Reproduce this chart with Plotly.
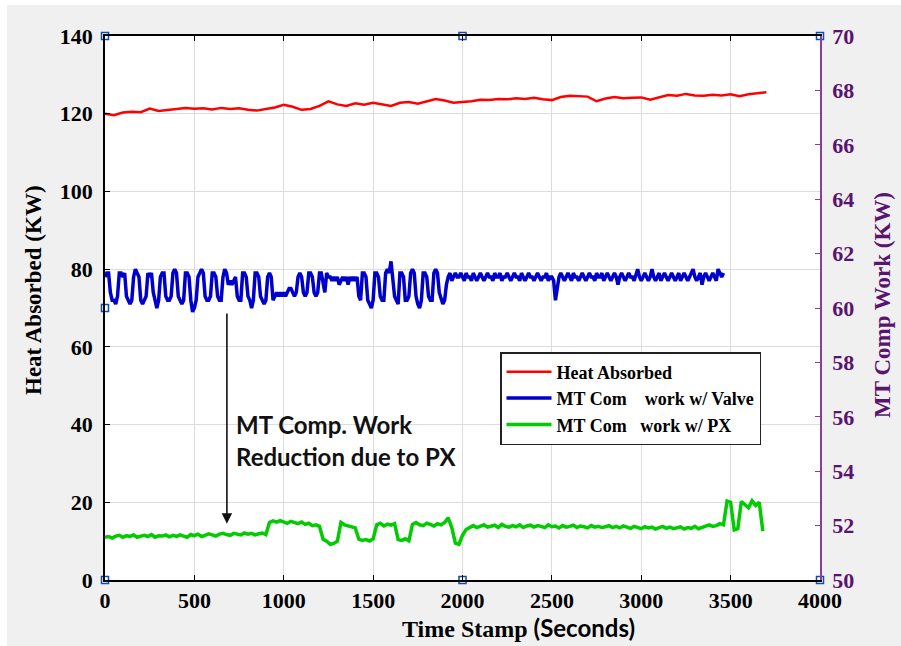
import numpy as np
import plotly.graph_objects as go

# ---- data -------------------------------------------------------------
# Heat absorbed (KW), sampled every 50 s
heat_step = 50
heat_absorbed = [
    120.0, 119.6, 120.3, 120.5, 120.4, 121.3, 120.7, 121.0, 121.2, 121.5,
    121.3, 121.4, 121.1, 121.5, 121.2, 121.4, 121.0, 120.8, 121.2, 121.6,
    122.3, 121.8, 121.0, 121.2, 122.0, 123.2, 122.4, 122.0, 122.7, 122.3,
    122.8, 122.4, 122.0, 122.8, 123.0, 122.6, 123.2, 123.8, 123.4, 122.8,
    123.0, 123.2, 123.6, 123.5, 123.8, 123.7, 124.0, 123.8, 124.1, 123.7,
    123.5, 124.3, 124.6, 124.5, 124.4, 123.2, 123.9, 124.3, 124.0, 124.1,
    124.2, 123.6, 124.2, 124.8, 124.6, 125.1, 124.7, 124.6, 124.9, 124.7,
    125.0, 124.5, 125.0, 125.2, 125.5,
]

# MT compressor work with expansion valve (KW), sampled every 10 s
valve_step = 10
work_valve = [
    78, 79, 79, 74, 72, 72, 71, 73, 79, 79, 78, 79, 73, 72, 71, 72, 78, 80, 79, 78,
    72, 71, 72, 73, 79, 78, 79, 74, 72, 70, 72, 78, 79, 79, 73, 72, 72, 73, 79, 80,
    79, 73, 72, 71, 72, 79, 79, 78, 72, 69, 70, 72, 78, 79, 80, 79, 73, 72, 72, 73,
    79, 79, 78, 73, 72, 72, 78, 80, 79, 76, 77, 76, 77, 78, 73, 72, 72, 79, 79, 78,
    73, 72, 70, 72, 79, 79, 78, 73, 72, 71, 72, 78, 79, 78, 72, 73, 74, 73, 74, 73,
    74, 73, 74, 75, 75, 74, 73, 74, 78, 79, 78, 74, 73, 74, 79, 79, 78, 74, 73, 74,
    79, 79, 76, 74, 79, 78, 78, 77, 78, 77, 78, 76, 77, 78, 77, 78, 76, 78, 77, 78,
    77, 78, 73, 72, 79, 79, 78, 72, 71, 70, 72, 79, 79, 78, 73, 72, 72, 79, 80, 79,
    82, 78, 73, 72, 71, 79, 79, 78, 72, 72, 73, 79, 80, 79, 73, 71, 70, 72, 79, 79,
    78, 73, 72, 72, 79, 80, 79, 74, 72, 71, 72, 76, 78, 79, 77, 78, 79, 78, 78, 79,
    78, 77, 79, 78, 78, 77, 79, 78, 77, 78, 79, 78, 77, 78, 79, 78, 78, 77, 79, 78,
    78, 79, 77, 78, 78, 79, 78, 77, 78, 79, 78, 78, 77, 79, 78, 77, 78, 79, 78, 78,
    77, 78, 79, 78, 77, 78, 78, 79, 77, 78, 78, 77, 72, 75, 78, 79, 78, 77, 78, 79,
    78, 77, 79, 78, 78, 77, 78, 79, 78, 77, 78, 79, 78, 78, 77, 79, 78, 78, 79, 77,
    78, 79, 78, 77, 78, 79, 78, 76, 78, 79, 78, 77, 78, 79, 78, 78, 77, 79, 80, 78,
    77, 78, 79, 78, 77, 78, 80, 78, 77, 78, 79, 77, 78, 79, 78, 77, 78, 79, 78, 77,
    78, 79, 77, 78, 79, 78, 77, 78, 79, 80, 78, 77, 78, 79, 76, 78, 79, 78, 77, 78,
    79, 78, 77, 80, 79, 78, 79,
]

# MT compressor work with pressure exchanger (KW), sampled every 20 s
px_step = 20
work_px = [
    11.0, 11.2, 10.8, 11.3, 11.5, 11.0, 11.4, 11.2, 11.6, 11.0, 11.3, 11.5, 11.2, 11.7, 11.0, 11.4, 11.3, 11.6, 11.1, 11.5,
    11.2, 11.6, 11.3, 11.0, 11.7, 11.4, 11.8, 11.2, 11.5, 11.9, 11.6, 11.3, 11.8, 12.0, 11.7, 11.5, 12.0, 11.8, 11.6, 12.1,
    11.8, 12.0, 11.6, 11.9, 12.1, 11.7, 14.8, 15.2, 14.9, 15.3, 15.0, 14.6, 15.1, 14.7, 14.5, 14.9, 14.3, 14.6, 14.0, 14.2,
    13.8, 10.5, 10.0, 9.2, 9.4, 10.0, 14.8, 14.2, 13.9, 13.6, 13.4, 10.5, 10.2, 10.4, 10.0, 10.6, 14.2, 14.6, 13.9, 14.4,
    14.1, 14.5, 10.4, 10.2, 10.6, 10.1, 14.3, 14.8, 14.2, 14.0, 14.6, 14.3, 13.9, 14.5, 14.2, 14.8, 16.0, 13.5, 9.5, 9.2,
    11.5, 13.0, 13.6, 14.0, 13.5, 13.8, 14.2, 13.6, 13.9, 14.1, 13.5, 14.3, 13.8, 13.6, 14.0, 13.7, 14.2, 13.5, 13.9, 14.1,
    13.6, 14.0, 13.8, 13.5, 14.2, 13.7, 13.9, 13.4, 14.0, 13.6, 13.8, 14.1, 13.5, 13.9, 13.7, 13.4, 14.0, 13.6, 13.8, 13.5,
    13.7, 14.0, 13.5, 13.8, 13.4, 13.9, 13.6, 13.3, 13.8, 13.5, 13.2, 13.7, 13.4, 13.6, 13.1, 13.5, 13.8, 13.3, 13.6, 13.2,
    13.4, 13.7, 13.1, 13.5, 13.3, 13.8, 13.2, 13.6, 13.9, 14.2, 13.8, 14.0, 14.5, 14.2, 20.3, 20.0, 12.9, 13.2, 20.2, 19.5,
    18.6, 20.4, 19.2, 20.0, 12.6,
]

heat_time = np.arange(len(heat_absorbed)) * heat_step
valve_time = np.arange(len(work_valve)) * valve_step
px_time = np.arange(len(work_px)) * px_step

# axis corner handles (time, heat axis value)
handle_t = [0, 2000, 0, 2000, 0]
handle_y = [140, 140, 0, 0, 70]
handle2_t = [4000, 4000]
handle2_y = [70, 50]

x_ticks = [0, 500, 1000, 1500, 2000, 2500, 3000, 3500, 4000]
y_ticks = [0, 20, 40, 60, 80, 100, 120, 140]
y2_ticks = [50, 52, 54, 56, 58, 60, 62, 64, 66, 68, 70]

callout_lines = ["MT Comp. Work", "Reduction due to PX"]

# ---- styling ----------------------------------------------------------
SERIF = "Liberation Serif"
PURPLE_LINE = "#8a3d9a"
PURPLE_TEXT = "#5a1470"
GRID = "#dcdcdc"
HANDLE = "#0d4fa8"

fig = go.Figure()

fig.add_trace(go.Scatter(x=heat_time, y=heat_absorbed, mode="lines",
                         name="Heat Absorbed",
                         line=dict(color="#ff0000", width=2.5)))
fig.add_trace(go.Scatter(x=valve_time, y=work_valve, mode="lines",
                         name="MT Com    work w/ Valve",
                         line=dict(color="#0000cc", width=3.5)))
fig.add_trace(go.Scatter(x=px_time, y=work_px, mode="lines",
                         name="MT Com   work w/ PX",
                         line=dict(color="#00cc00", width=3.5)))

handle_marker = dict(symbol="square", size=7, color="white",
                     line=dict(color=HANDLE, width=1.5))
fig.add_trace(go.Scatter(x=handle_t, y=handle_y, mode="markers",
                         marker=handle_marker, showlegend=False,
                         cliponaxis=False, hoverinfo="skip"))
fig.add_trace(go.Scatter(x=handle2_t, y=handle2_y, mode="markers",
                         marker=handle_marker, showlegend=False,
                         cliponaxis=False, hoverinfo="skip", yaxis="y2"))

W, H = 901, 646
ML, MR, MT_, MB = 105, 81, 36, 66
PW, PH = W - ML - MR, H - MT_ - MB


def px_to_paper(px, py):
    return (px - ML) / PW, (H - MB - py) / PH


tick_font = dict(family=SERIF, size=22, color="black", weight="bold")

fig.update_layout(
    width=W, height=H,
    margin=dict(l=ML, r=MR, t=MT_, b=MB, pad=0),
    paper_bgcolor="#f0f0f0",
    plot_bgcolor="white",
    showlegend=True,
    xaxis=dict(range=[0, 4000], tickvals=x_ticks, ticks="inside", ticklen=5,
               tickcolor="black", showline=True, linecolor="black", linewidth=1.5,
               mirror="ticks", showgrid=True, gridcolor=GRID, gridwidth=1,
               zeroline=False, tickfont=tick_font, ticklabelstandoff=0),
    yaxis=dict(range=[0, 140], tickvals=y_ticks, ticks="inside", ticklen=5,
               tickcolor="black", showline=True, linecolor="black", linewidth=1.5,
               showgrid=True, gridcolor=GRID, gridwidth=1, zeroline=False,
               tickfont=tick_font, ticklabelstandoff=6),
    yaxis2=dict(range=[50, 70], tickvals=y2_ticks, overlaying="y", side="right",
                ticks="inside", ticklen=5, tickcolor=PURPLE_LINE, showline=True,
                linecolor=PURPLE_LINE, linewidth=1.5, showgrid=False,
                zeroline=False, ticklabelstandoff=6,
                tickfont=dict(family=SERIF, size=22, color=PURPLE_TEXT, weight="bold")),
    legend=dict(x=px_to_paper(500, 0)[0], y=px_to_paper(0, 352)[1],
                xanchor="left", yanchor="top", bgcolor="white",
                bordercolor="#222222", borderwidth=1.5,
                font=dict(family=SERIF, size=18, color="black", weight="bold"),
                tracegroupgap=0, itemwidth=45),
)

# white strip along the top-left edge of the figure window
lx0, _ = px_to_paper(0, 0)
lx1, _ = px_to_paper(7, 0)
_, ty0 = px_to_paper(0, 0)
_, ty1 = px_to_paper(0, 5)
rx1, _ = px_to_paper(W, 0)
_, by0 = px_to_paper(0, H)
fig.add_shape(type="rect", xref="paper", yref="paper", x0=lx0, x1=lx1,
              y0=by0, y1=ty0, fillcolor="white", line_width=0, layer="below")
fig.add_shape(type="rect", xref="paper", yref="paper", x0=lx0, x1=rx1,
              y0=ty1, y1=ty0, fillcolor="white", line_width=0, layer="below")

# axis titles
ax_, ay_ = px_to_paper(33, 290)
fig.add_annotation(text="Heat Absorbed (KW)", xref="paper", yref="paper",
                   x=ax_, y=ay_, xanchor="center", yanchor="middle",
                   textangle=-90, showarrow=False,
                   font=dict(family=SERIF, size=23, color="black", weight="bold"))
ax_, ay_ = px_to_paper(882, 305)
fig.add_annotation(text="MT Comp Work (KW)", xref="paper", yref="paper",
                   x=ax_, y=ay_, xanchor="center", yanchor="middle",
                   textangle=-90, showarrow=False,
                   font=dict(family=SERIF, size=23, color=PURPLE_TEXT, weight="bold"))
ax_, ay_ = px_to_paper(518, 627)
fig.add_annotation(text="Time Stamp <span style='font-family:Lato'>(Seconds)</span>",
                   xref="paper", yref="paper", x=ax_, y=ay_,
                   xanchor="center", yanchor="middle", showarrow=False,
                   font=dict(family=SERIF, size=24, color="black", weight="bold"))

# callout text (one annotation per line) and arrow
for line_text, line_y in zip(callout_lines, [424, 456]):
    cx, cy = px_to_paper(234, line_y)
    fig.add_annotation(text=line_text, xref="paper", yref="paper", x=cx, y=cy,
                       xanchor="left", yanchor="middle", showarrow=False,
                       font=dict(family="Lato", size=24, color="#111111", weight="bold"))
fig.add_annotation(x=682, y=14.5, ax=682, ay=69, xref="x", yref="y",
                   axref="x", ayref="y", text="", showarrow=True,
                   arrowhead=2, arrowsize=1.3, arrowwidth=1.6,
                   arrowcolor="#111111")

fig.write_html("out.html")
